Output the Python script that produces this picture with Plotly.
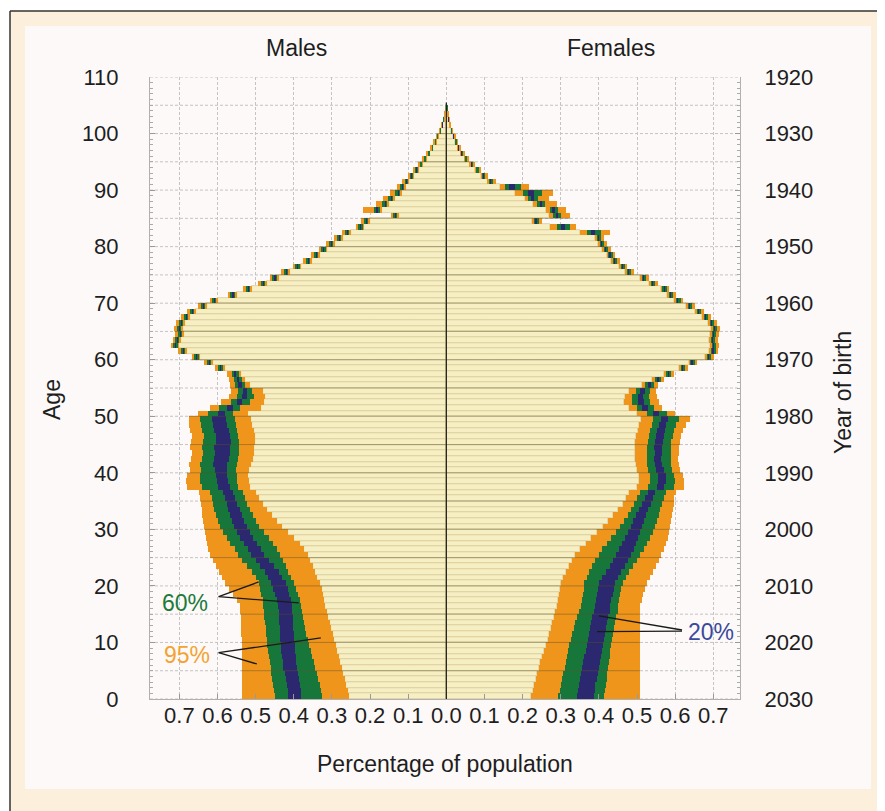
import numpy as np
import plotly.graph_objects as go

# ---------------- data (percentage of population, by single year of age) ----------------
ages = list(range(105))

male_p025 = [0.255, 0.258, 0.262, 0.266, 0.270, 0.274, 0.278, 0.282, 0.286, 0.290,
             0.294, 0.298, 0.302, 0.306, 0.310, 0.313, 0.317, 0.320, 0.323, 0.327,
             0.332, 0.338, 0.344, 0.350, 0.357, 0.364, 0.372, 0.385, 0.400, 0.415,
             0.430, 0.445, 0.458, 0.470, 0.482, 0.492, 0.500, 0.515, 0.518, 0.520,
             0.518, 0.512, 0.506, 0.504, 0.504, 0.502, 0.502, 0.505, 0.510, 0.512,
             0.520, 0.485, 0.478, 0.475, 0.480, 0.515, 0.528, 0.538, 0.580, 0.612,
             0.645, 0.680, 0.700, 0.695, 0.688, 0.690, 0.685, 0.673, 0.657, 0.628,
             0.598, 0.550, 0.510, 0.470, 0.440, 0.410, 0.380, 0.352, 0.332, 0.312,
             0.292, 0.272, 0.250, 0.215, 0.200, 0.125, 0.170, 0.150, 0.135, 0.118,
             0.108, 0.098, 0.085, 0.073, 0.063, 0.052, 0.043, 0.035, 0.027, 0.021,
             0.015, 0.010, 0.006, 0.003, 0.001]
male_p20 = [0.325, 0.328, 0.332, 0.336, 0.340, 0.344, 0.348, 0.352, 0.356, 0.360,
            0.364, 0.367, 0.370, 0.373, 0.376, 0.378, 0.380, 0.384, 0.388, 0.394,
            0.400, 0.407, 0.414, 0.421, 0.428, 0.436, 0.444, 0.455, 0.466, 0.478,
            0.490, 0.500, 0.508, 0.515, 0.522, 0.528, 0.534, 0.545, 0.548, 0.550,
            0.552, 0.550, 0.546, 0.544, 0.544, 0.544, 0.545, 0.548, 0.552, 0.555,
            0.560, 0.540, 0.515, 0.505, 0.510, 0.527, 0.537, 0.546, 0.587, 0.618,
            0.651, 0.686, 0.706, 0.701, 0.694, 0.696, 0.691, 0.679, 0.663, 0.634,
            0.604, 0.556, 0.516, 0.476, 0.446, 0.416, 0.386, 0.358, 0.338, 0.318,
            0.298, 0.278, 0.256, 0.221, 0.206, 0.130, 0.176, 0.156, 0.140, 0.123,
            0.112, 0.102, 0.089, 0.076, 0.066, 0.055, 0.045, 0.037, 0.029, 0.022,
            0.016, 0.011, 0.007, 0.004, 0.001]
male_p40 = [0.380, 0.381, 0.383, 0.386, 0.389, 0.391, 0.393, 0.395, 0.397, 0.398,
            0.399, 0.400, 0.401, 0.402, 0.403, 0.404, 0.405, 0.408, 0.412, 0.416,
            0.420, 0.430, 0.440, 0.452, 0.465, 0.477, 0.486, 0.496, 0.506, 0.515,
            0.523, 0.530, 0.536, 0.542, 0.548, 0.554, 0.560, 0.568, 0.572, 0.574,
            0.576, 0.574, 0.570, 0.566, 0.566, 0.565, 0.568, 0.570, 0.575, 0.578,
            0.580, 0.560, 0.535, 0.522, 0.522, 0.535, 0.543, 0.551, 0.591, 0.621,
            0.654, 0.689, 0.709, 0.704, 0.697, 0.699, 0.694, 0.682, 0.666, 0.637,
            0.607, 0.559, 0.519, 0.479, 0.449, 0.419, 0.389, 0.361, 0.341, 0.321,
            0.301, 0.281, 0.259, 0.224, 0.209, 0.133, 0.180, 0.159, 0.143, 0.126,
            0.115, 0.104, 0.091, 0.078, 0.067, 0.056, 0.046, 0.038, 0.030, 0.023,
            0.017, 0.011, 0.007, 0.004, 0.002]
male_p60 = [0.415, 0.416, 0.418, 0.421, 0.424, 0.427, 0.429, 0.431, 0.433, 0.434,
            0.435, 0.436, 0.437, 0.438, 0.439, 0.440, 0.441, 0.445, 0.450, 0.455,
            0.460, 0.468, 0.476, 0.488, 0.500, 0.512, 0.521, 0.530, 0.540, 0.548,
            0.556, 0.562, 0.567, 0.572, 0.576, 0.581, 0.586, 0.598, 0.602, 0.604,
            0.606, 0.612, 0.608, 0.606, 0.608, 0.605, 0.605, 0.608, 0.612, 0.614,
            0.600, 0.575, 0.550, 0.535, 0.532, 0.545, 0.550, 0.557, 0.595, 0.624,
            0.657, 0.692, 0.712, 0.707, 0.700, 0.702, 0.697, 0.685, 0.669, 0.640,
            0.610, 0.562, 0.522, 0.482, 0.452, 0.422, 0.392, 0.364, 0.344, 0.324,
            0.304, 0.284, 0.262, 0.227, 0.212, 0.136, 0.184, 0.162, 0.146, 0.129,
            0.118, 0.106, 0.093, 0.080, 0.069, 0.058, 0.048, 0.039, 0.031, 0.024,
            0.017, 0.012, 0.007, 0.004, 0.002]
male_p80 = [0.450, 0.452, 0.454, 0.457, 0.459, 0.461, 0.463, 0.465, 0.467, 0.469,
            0.471, 0.473, 0.474, 0.476, 0.477, 0.478, 0.480, 0.482, 0.485, 0.488,
            0.492, 0.500, 0.510, 0.522, 0.535, 0.546, 0.555, 0.566, 0.576, 0.585,
            0.594, 0.600, 0.605, 0.609, 0.612, 0.615, 0.620, 0.640, 0.645, 0.646,
            0.642, 0.645, 0.640, 0.638, 0.640, 0.638, 0.636, 0.640, 0.643, 0.645,
            0.625, 0.595, 0.565, 0.550, 0.545, 0.555, 0.558, 0.563, 0.600, 0.628,
            0.661, 0.696, 0.716, 0.711, 0.704, 0.706, 0.701, 0.689, 0.673, 0.644,
            0.614, 0.566, 0.526, 0.486, 0.456, 0.426, 0.396, 0.368, 0.348, 0.328,
            0.308, 0.288, 0.266, 0.231, 0.216, 0.140, 0.190, 0.168, 0.152, 0.134,
            0.122, 0.110, 0.096, 0.083, 0.071, 0.060, 0.049, 0.040, 0.032, 0.025,
            0.018, 0.012, 0.008, 0.004, 0.002]
male_p975 = [0.535, 0.536, 0.536, 0.537, 0.537, 0.537, 0.537, 0.537, 0.537, 0.537,
             0.537, 0.538, 0.538, 0.538, 0.539, 0.540, 0.542, 0.550, 0.560, 0.570,
             0.580, 0.588, 0.596, 0.604, 0.612, 0.619, 0.624, 0.628, 0.631, 0.634,
             0.636, 0.638, 0.640, 0.641, 0.643, 0.645, 0.648, 0.680, 0.682, 0.680,
             0.672, 0.675, 0.670, 0.668, 0.672, 0.670, 0.668, 0.672, 0.676, 0.675,
             0.650, 0.620, 0.590, 0.570, 0.565, 0.568, 0.570, 0.574, 0.607, 0.635,
             0.668, 0.703, 0.723, 0.718, 0.711, 0.713, 0.708, 0.696, 0.680, 0.651,
             0.621, 0.573, 0.533, 0.493, 0.463, 0.433, 0.403, 0.375, 0.355, 0.335,
             0.315, 0.295, 0.273, 0.238, 0.223, 0.146, 0.218, 0.185, 0.165, 0.148,
             0.130, 0.115, 0.101, 0.087, 0.075, 0.063, 0.052, 0.043, 0.034, 0.026,
             0.019, 0.013, 0.008, 0.005, 0.002]

female_p025 = [0.222, 0.226, 0.230, 0.234, 0.238, 0.242, 0.246, 0.251, 0.256, 0.261,
               0.266, 0.270, 0.274, 0.278, 0.282, 0.286, 0.290, 0.293, 0.296, 0.298,
               0.301, 0.307, 0.314, 0.321, 0.329, 0.338, 0.350, 0.365, 0.380, 0.395,
               0.410, 0.425, 0.438, 0.450, 0.462, 0.472, 0.480, 0.500, 0.505, 0.505,
               0.500, 0.496, 0.494, 0.495, 0.494, 0.495, 0.498, 0.502, 0.506, 0.510,
               0.500, 0.478, 0.466, 0.468, 0.478, 0.512, 0.540, 0.572, 0.610, 0.635,
               0.678, 0.690, 0.692, 0.688, 0.692, 0.694, 0.686, 0.670, 0.652, 0.628,
               0.598, 0.578, 0.562, 0.532, 0.508, 0.468, 0.452, 0.432, 0.420, 0.408,
               0.398, 0.390, 0.350, 0.272, 0.225, 0.270, 0.262, 0.228, 0.205, 0.180,
               0.140, 0.108, 0.092, 0.076, 0.062, 0.048, 0.038, 0.030, 0.023, 0.018,
               0.013, 0.009, 0.005, 0.003, 0.001]
female_p20 = [0.294, 0.297, 0.300, 0.304, 0.307, 0.310, 0.313, 0.316, 0.319, 0.322,
              0.326, 0.330, 0.334, 0.338, 0.343, 0.348, 0.354, 0.357, 0.359, 0.360,
              0.362, 0.368, 0.375, 0.383, 0.391, 0.399, 0.408, 0.420, 0.432, 0.444,
              0.455, 0.466, 0.476, 0.485, 0.493, 0.501, 0.508, 0.530, 0.534, 0.535,
              0.530, 0.527, 0.526, 0.527, 0.526, 0.528, 0.531, 0.534, 0.538, 0.542,
              0.525, 0.500, 0.488, 0.488, 0.496, 0.522, 0.548, 0.578, 0.616, 0.641,
              0.684, 0.696, 0.698, 0.694, 0.698, 0.700, 0.692, 0.676, 0.658, 0.634,
              0.604, 0.584, 0.568, 0.538, 0.514, 0.474, 0.458, 0.438, 0.426, 0.414,
              0.404, 0.396, 0.368, 0.290, 0.231, 0.280, 0.272, 0.238, 0.215, 0.200,
              0.155, 0.112, 0.096, 0.079, 0.065, 0.051, 0.040, 0.032, 0.025, 0.019,
              0.014, 0.010, 0.006, 0.003, 0.001]
female_p40 = [0.342, 0.344, 0.347, 0.350, 0.353, 0.356, 0.359, 0.362, 0.365, 0.368,
              0.371, 0.374, 0.377, 0.380, 0.383, 0.386, 0.389, 0.392, 0.395, 0.398,
              0.401, 0.409, 0.418, 0.428, 0.437, 0.445, 0.452, 0.460, 0.468, 0.476,
              0.483, 0.490, 0.498, 0.506, 0.514, 0.521, 0.528, 0.552, 0.555, 0.556,
              0.550, 0.546, 0.545, 0.546, 0.545, 0.547, 0.550, 0.553, 0.557, 0.562,
              0.542, 0.514, 0.503, 0.502, 0.508, 0.530, 0.553, 0.582, 0.619, 0.644,
              0.687, 0.699, 0.701, 0.697, 0.701, 0.703, 0.695, 0.679, 0.661, 0.637,
              0.607, 0.587, 0.571, 0.541, 0.517, 0.477, 0.461, 0.441, 0.429, 0.417,
              0.407, 0.399, 0.380, 0.300, 0.235, 0.287, 0.278, 0.245, 0.222, 0.215,
              0.165, 0.115, 0.098, 0.081, 0.066, 0.052, 0.041, 0.033, 0.026, 0.020,
              0.015, 0.010, 0.006, 0.004, 0.002]
female_p60 = [0.388, 0.389, 0.391, 0.394, 0.397, 0.400, 0.403, 0.405, 0.408, 0.410,
              0.413, 0.416, 0.419, 0.422, 0.425, 0.428, 0.430, 0.433, 0.436, 0.439,
              0.442, 0.450, 0.459, 0.468, 0.477, 0.485, 0.492, 0.498, 0.503, 0.508,
              0.513, 0.518, 0.524, 0.530, 0.536, 0.542, 0.548, 0.572, 0.575, 0.575,
              0.570, 0.566, 0.564, 0.565, 0.565, 0.567, 0.570, 0.573, 0.577, 0.582,
              0.558, 0.528, 0.517, 0.515, 0.520, 0.537, 0.558, 0.585, 0.622, 0.647,
              0.690, 0.702, 0.704, 0.700, 0.704, 0.706, 0.698, 0.682, 0.664, 0.640,
              0.610, 0.590, 0.574, 0.544, 0.520, 0.480, 0.464, 0.444, 0.432, 0.420,
              0.410, 0.402, 0.390, 0.312, 0.239, 0.293, 0.284, 0.251, 0.229, 0.230,
              0.180, 0.118, 0.100, 0.083, 0.068, 0.054, 0.043, 0.034, 0.027, 0.021,
              0.015, 0.011, 0.007, 0.004, 0.002]
female_p80 = [0.414, 0.416, 0.418, 0.420, 0.422, 0.424, 0.426, 0.428, 0.430, 0.432,
              0.434, 0.437, 0.440, 0.443, 0.446, 0.449, 0.451, 0.453, 0.455, 0.458,
              0.462, 0.470, 0.479, 0.489, 0.499, 0.509, 0.518, 0.527, 0.535, 0.542,
              0.548, 0.553, 0.557, 0.561, 0.565, 0.570, 0.576, 0.598, 0.600, 0.598,
              0.592, 0.589, 0.588, 0.589, 0.588, 0.590, 0.593, 0.597, 0.602, 0.610,
              0.578, 0.545, 0.535, 0.532, 0.534, 0.545, 0.563, 0.589, 0.626, 0.651,
              0.694, 0.706, 0.708, 0.704, 0.708, 0.710, 0.702, 0.686, 0.668, 0.644,
              0.614, 0.594, 0.578, 0.548, 0.524, 0.484, 0.468, 0.448, 0.436, 0.424,
              0.414, 0.406, 0.405, 0.325, 0.244, 0.300, 0.292, 0.260, 0.240, 0.250,
              0.195, 0.122, 0.103, 0.086, 0.070, 0.056, 0.044, 0.035, 0.028, 0.022,
              0.016, 0.011, 0.007, 0.004, 0.002]
female_p975 = [0.507, 0.507, 0.507, 0.507, 0.507, 0.507, 0.507, 0.507, 0.507, 0.507,
               0.507, 0.507, 0.507, 0.507, 0.507, 0.507, 0.508, 0.512, 0.516, 0.520,
               0.525, 0.533, 0.541, 0.549, 0.557, 0.564, 0.570, 0.575, 0.580, 0.584,
               0.587, 0.590, 0.592, 0.594, 0.596, 0.598, 0.602, 0.622, 0.624, 0.620,
               0.612, 0.610, 0.608, 0.610, 0.610, 0.612, 0.615, 0.620, 0.628, 0.640,
               0.600, 0.565, 0.558, 0.552, 0.550, 0.555, 0.572, 0.596, 0.633, 0.658,
               0.701, 0.713, 0.715, 0.711, 0.715, 0.717, 0.709, 0.693, 0.675, 0.651,
               0.621, 0.601, 0.585, 0.555, 0.531, 0.491, 0.475, 0.455, 0.443, 0.431,
               0.421, 0.413, 0.430, 0.340, 0.252, 0.325, 0.315, 0.290, 0.270, 0.280,
               0.217, 0.130, 0.108, 0.090, 0.074, 0.059, 0.047, 0.038, 0.030, 0.023,
               0.017, 0.012, 0.008, 0.005, 0.002]

x_tick_values = [-0.7, -0.6, -0.5, -0.4, -0.3, -0.2, -0.1, 0.0, 0.1, 0.2, 0.3, 0.4, 0.5, 0.6, 0.7]
x_tick_labels = ["0.7", "0.6", "0.5", "0.4", "0.3", "0.2", "0.1", "0.0",
                 "0.1", "0.2", "0.3", "0.4", "0.5", "0.6", "0.7"]
age_ticks = [0, 10, 20, 30, 40, 50, 60, 70, 80, 90, 100, 110]
birth_year_labels = ["2030", "2020", "2010", "2000", "1990", "1980",
                     "1970", "1960", "1950", "1940", "1930", "1920"]

# ---------------- styling ----------------
FONT = "Liberation Sans, Arial, Helvetica, sans-serif"
PALE = "#f7efc4"
ORANGE = "#f0951c"
GREEN = "#17773b"
BLUE = "#2b2870"
SEP = "#d3c68e"
TXT = "#1e1e1e"

fig = go.Figure()
y_pos = np.array(ages) + 0.5


def add_side(sign, bounds):
    edges = [np.zeros(len(ages))] + [np.array(b) for b in bounds]
    fills = [PALE, ORANGE, GREEN, BLUE, GREEN, ORANGE]
    for i in range(6):
        lo, hi = edges[i], edges[i + 1]
        fig.add_trace(go.Bar(
            y=y_pos, base=sign * lo, x=sign * (hi - lo), orientation="h", width=1.0,
            marker=dict(color=fills[i], line=dict(width=0.7 if i == 0 else 0, color=SEP)),
            showlegend=False, hoverinfo="skip"))


add_side(-1, [male_p025, male_p20, male_p40, male_p60, male_p80, male_p975])
add_side(1, [female_p025, female_p20, female_p40, female_p60, female_p80, female_p975])

# invisible trace for the secondary (year of birth) axis
fig.add_trace(go.Scatter(x=[0], y=[0], yaxis="y2", mode="markers",
                         marker=dict(opacity=0), showlegend=False, hoverinfo="skip"))

# ---------------- layout geometry (page pixels -> paper) ----------------
OFF = 8                      # page body margin
W, H = 885 - OFF, 811 - OFF  # figure size
PL, PT = 150, 77             # plot-area top-left in page pixels
PW, PH = 590, 622
L, T = PL - OFF, PT - OFF
R, B = W - L - PW, H - T - PH


def pxx(x):
    return (x - PL) / PW


def pxy(y):
    return (PT + PH - y) / PH


shapes = [
    dict(type="rect", xref="paper", yref="paper", x0=pxx(10), x1=pxx(890), y0=pxy(815), y1=pxy(11),
         fillcolor="#fcefdc", line=dict(width=0), layer="below"),
    dict(type="rect", xref="paper", yref="paper", x0=pxx(25), x1=pxx(871), y0=pxy(789), y1=pxy(26),
         fillcolor="#fcf9f8", line=dict(width=0), layer="below"),
    dict(type="line", xref="paper", yref="paper", x0=pxx(10), x1=pxx(10), y0=pxy(815), y1=pxy(11),
         line=dict(color="#333333", width=1.5)),
    dict(type="line", xref="paper", yref="paper", x0=pxx(10), x1=pxx(890), y0=pxy(11), y1=pxy(11),
         line=dict(color="#333333", width=1.5)),
]

# horizontal 5-year dashed grid (behind bars)
for g in range(0, 111, 5):
    shapes.append(dict(type="line", xref="x", yref="y", x0=-0.777, x1=0.77, y0=g, y1=g,
                       line=dict(color="#c4c4c4", width=1, dash="3px,2px"), layer="below"))

# darker 5-year rules drawn over the bars
m975 = np.array(male_p975)
f975 = np.array(female_p975)
for g in range(5, 105, 5):
    xl = -max(m975[g - 1], m975[g])
    xr = max(f975[g - 1], f975[g])
    shapes.append(dict(type="line", xref="x", yref="y", x0=xl, x1=xr, y0=g, y1=g,
                       line=dict(color="rgba(90,80,40,0.45)", width=1), layer="above"))

# centre line
shapes.append(dict(type="line", xref="x", yref="y", x0=0, x1=0, y0=0, y1=105.5,
                   line=dict(color="#1a1a1a", width=1.2), layer="above"))

# pointer lines for interval labels
pointers = [
    ((-0.597, 18.1), (-0.492, 20.7)), ((-0.597, 18.1), (-0.387, 17.0)),
    ((-0.597, 8.2), (-0.329, 10.8)), ((-0.597, 8.2), (-0.497, 6.2)),
    ((0.618, 12.2), (0.400, 14.7)), ((0.618, 12.0), (0.395, 11.9)),
]
for (a, b) in pointers:
    shapes.append(dict(type="line", xref="x", yref="y", x0=a[0], y0=a[1], x1=b[0], y1=b[1],
                       line=dict(color="#1a1a1a", width=1.3), layer="above"))


def label(text, x, y, **kw):
    d = dict(text=text, x=pxx(x), y=pxy(y), xref="paper", yref="paper", showarrow=False,
             xanchor="center", yanchor="middle", font=dict(size=23, color=TXT))
    d.update(kw)
    return d


annotations = [
    label("Males", 296, 48),
    label("Females", 611, 48),
    label("Age", 52, 400, textangle=-90),
    label("Year of birth", 843, 393, textangle=-90),
    label("Percentage of population", 445, 764),
    dict(text="60%", x=-0.686, y=17.0, xref="x", yref="y", showarrow=False,
         xanchor="center", yanchor="middle", font=dict(size=23, color="#1d7a3c")),
    dict(text="95%", x=-0.681, y=7.7, xref="x", yref="y", showarrow=False,
         xanchor="center", yanchor="middle", font=dict(size=23, color="#f3a333")),
    dict(text="20%", x=0.694, y=11.9, xref="x", yref="y", showarrow=False,
         xanchor="center", yanchor="middle", font=dict(size=23, color="#3a4a9c")),
]

fig.update_layout(
    width=W, height=H, autosize=False,
    margin=dict(l=L, r=R, t=T, b=B, pad=0),
    paper_bgcolor="white", plot_bgcolor="rgba(0,0,0,0)",
    font=dict(family=FONT, size=22, color=TXT),
    barmode="overlay", bargap=0,
    showlegend=False,
    shapes=shapes, annotations=annotations,
    xaxis=dict(range=[-0.777, 0.77], tickvals=x_tick_values, ticktext=x_tick_labels,
               ticks="inside", ticklen=5, tickcolor="#999999", zeroline=False,
               showline=True, linecolor="#b0b0b0", linewidth=1,
               showgrid=True, gridcolor="#c4c4c4", gridwidth=1, griddash="3px,2px",
               tickfont=dict(size=22, color=TXT), ticklabelstandoff=-3),
    yaxis=dict(range=[0, 110], tickvals=age_ticks, ticktext=[str(a) for a in age_ticks],
               ticks="inside", ticklen=5, tickcolor="#999999", zeroline=False,
               showline=True, linecolor="#b0b0b0", linewidth=1,
               minor=dict(dtick=1, ticks="inside", ticklen=3, tickcolor="#aaaaaa", showgrid=False),
               tickfont=dict(size=22, color=TXT), ticklabelstandoff=26, showgrid=False),
    yaxis2=dict(range=[0, 110], overlaying="y", side="right", tickvals=age_ticks,
                ticktext=birth_year_labels, ticks="inside", ticklen=5, tickcolor="#999999",
                showline=True, linecolor="#b0b0b0", linewidth=1, zeroline=False, showgrid=False,
                minor=dict(dtick=1, ticks="inside", ticklen=3, tickcolor="#aaaaaa", showgrid=False),
                tickfont=dict(size=22, color=TXT), ticklabelstandoff=19),
)

fig.write_html("out.html")
